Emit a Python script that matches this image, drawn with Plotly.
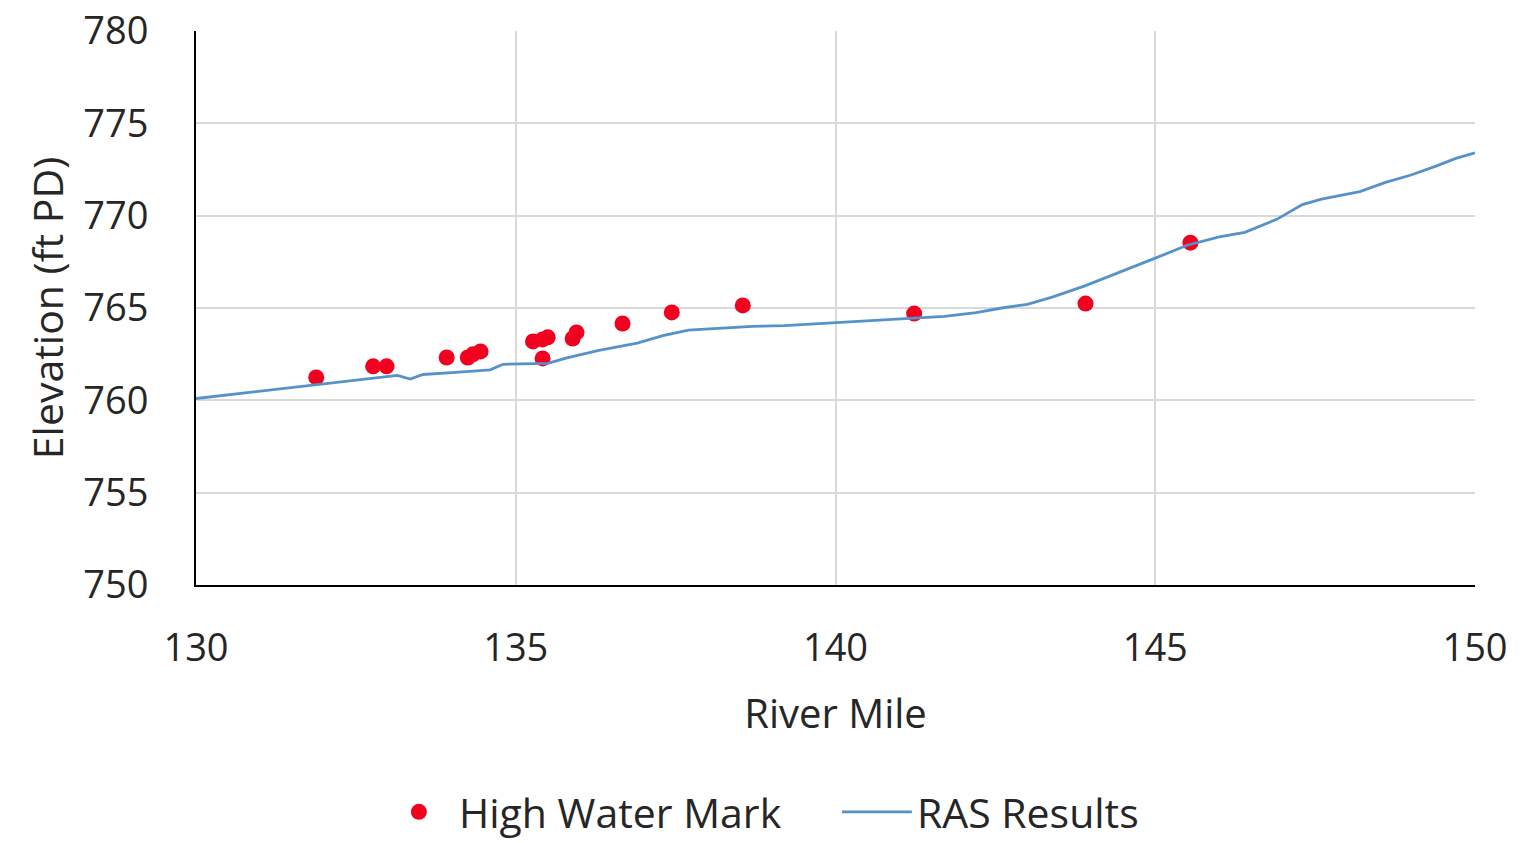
import plotly.graph_objects as go

# High water marks observed along the reach
hwm_mile = [131.88, 132.77, 132.98, 133.92, 134.25, 134.33, 134.45,
            135.27, 135.42, 135.50, 135.42, 135.89, 135.95, 136.67,
            137.44, 138.55, 141.23, 143.91, 145.55]
hwm_elev = [761.24, 761.84, 761.84, 762.32, 762.32, 762.49, 762.65,
            763.19, 763.30, 763.41, 762.27, 763.35, 763.68, 764.16,
            764.76, 765.14, 764.70, 765.24, 768.54]

# HEC-RAS computed water surface profile
ras_mile = [130.0, 130.5, 131.0, 131.5, 132.0, 132.5, 133.0, 133.15, 133.35,
            133.55, 134.0, 134.6, 134.8, 135.5, 135.8, 136.3, 136.9, 137.3,
            137.7, 138.2, 138.7, 139.2, 139.7, 140.2, 140.7, 141.2, 141.7,
            142.2, 142.6, 143.0, 143.4, 143.9, 144.5, 145.0, 145.5, 146.0,
            146.4, 146.9, 147.3, 147.6, 147.9, 148.2, 148.6, 149.0, 149.4,
            149.7, 150.0]
ras_elev = [760.1, 760.3, 760.5, 760.7, 760.9, 761.1, 761.3, 761.35, 761.15,
            761.4, 761.5, 761.65, 761.95, 762.0, 762.3, 762.7, 763.1, 763.5,
            763.8, 763.9, 764.0, 764.05, 764.15, 764.25, 764.35, 764.45, 764.55,
            764.75, 765.0, 765.2, 765.6, 766.2, 767.0, 767.7, 768.4, 768.85,
            769.1, 769.8, 770.6, 770.9, 771.1, 771.3, 771.8, 772.2, 772.7,
            773.1, 773.4]

x_ticks = [130, 135, 140, 145, 150]
y_ticks = [750, 755, 760, 765, 770, 775, 780]

FONT = "Open Sans, Noto Sans, sans-serif"

fig = go.Figure()
fig.add_trace(go.Scatter(
    x=hwm_mile, y=hwm_elev, mode="markers", name="High Water Mark",
    marker=dict(color="#F2001F", size=16, line=dict(width=0)),
))
fig.add_trace(go.Scatter(
    x=ras_mile, y=ras_elev, mode="lines", name="RAS Results",
    line=dict(color="#5592CA", width=2.8),
))

fig.update_layout(
    width=1540, height=843,
    margin=dict(l=196, r=65, t=31, b=258, autoexpand=False),
    paper_bgcolor="white", plot_bgcolor="white",
    font=dict(family=FONT, size=38, color="#262626"),
    showlegend=True,
    legend=dict(orientation="h", x=0.143, xanchor="left", y=-0.41,
                yanchor="middle", font=dict(size=41), itemwidth=70,
                entrywidth=373, entrywidthmode="pixels",
                bgcolor="rgba(0,0,0,0)"),
)
fig.update_xaxes(
    range=[130, 150], tickvals=x_ticks, showgrid=True, gridcolor="#D9D9D9",
    gridwidth=1.5, zeroline=False, showline=True, linecolor="black",
    linewidth=2, ticks="", ticklabelstandoff=28, automargin=False,
    title=dict(text="River Mile", standoff=29, font=dict(size=40)),
)
fig.update_yaxes(
    range=[750, 780], tickvals=y_ticks, showgrid=True, gridcolor="#D9D9D9",
    gridwidth=1.5, zeroline=False, showline=True, linecolor="black",
    linewidth=2, ticks="", ticklabelstandoff=38, automargin=False,
    title=dict(text="Elevation (ft PD)", standoff=7, font=dict(size=41)),
)

fig.write_html("out.html")
